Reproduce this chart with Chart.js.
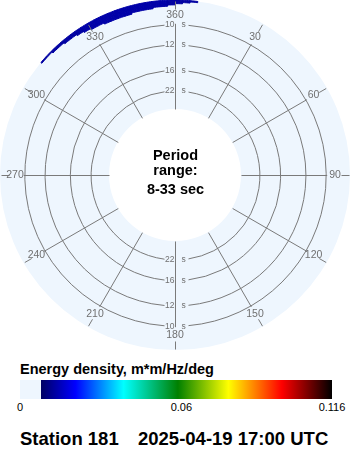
<!DOCTYPE html>
<html>
<head>
<meta charset="utf-8">
<script src="https://cdn.jsdelivr.net/npm/chart.js@4"></script>
<style>
html,body{margin:0;padding:0;background:#fff;}
#wrap{position:relative;width:350px;height:450px;overflow:hidden;font-family:"Liberation Sans",Arial,sans-serif;color:#000;}
#c{position:absolute;left:0;top:0;}
#cbTitle{position:absolute;left:20px;top:362px;font-weight:bold;font-size:14.5px;line-height:1;white-space:nowrap;}
#cb{position:absolute;left:20px;top:380px;width:312px;height:19px;}
.cbl{position:absolute;top:402px;font-size:11px;line-height:1;white-space:nowrap;transform:translateX(-50%);}
.tt{position:absolute;top:430px;font-weight:bold;font-size:18.5px;line-height:1;white-space:nowrap;}
</style>
</head>
<body>
<div id="wrap">
<canvas id="c" width="350" height="350"></canvas>
<div id="cbTitle">Energy density, m*m/Hz/deg</div>
<div id="cb"></div>
<div class="tt" style="left:20px">Station 181</div>
<div class="tt" style="left:138px">2025-04-19 17:00 UTC</div>
</div>
<script>
// ---- data ----
const periodRange = '8-33 sec';
const periodTicks = [10, 12, 16, 22];                 // ring labels (s)
const dirTicks = [0, 30, 60, 90, 120, 150, 180, 210, 240, 270, 300, 330];
const dirTickLabels = ['360', '30', '60', '90', '120', '150', '180', '210', '240', '270', '300', '330'];
const dirStep = 2.5;                                   // degrees per direction bin
const dirStart = 310;                                  // first direction of listed energies
// frequency bin edges (Hz), outer -> inner
const freqEdges = [0.120, 0.119, 0.118, 0.117, 0.116, 0.115, 0.114, 0.113, 0.100, 1/12, 1/16, 1/22, 1/33];
// energy density for direction bins 310,312.5,...,357.5,0,2.5,5 (one array per frequency bin, outer first)
const e0 = [0.013,0.013,0.013,0.013,0.013,0.013,0.013,0.0135,0.0135,0.0135,0.0135,0.0135,0.0135,0.0135,0.0135,0.0135,0.0135,0.0135,0.0135,0.013,0.013,0.013,0.013];
const e1 = [0,0,0.013,0.013,0.013,0.013,0.013,0.0135,0.0135,0.0135,0.0135,0.0135,0.0135,0.0135,0.0135,0.0135,0.0135,0.0135,0.0135,0.013,0.013,0.013,0];
const e2 = [0,0,0,0,0.013,0.013,0.013,0.0135,0.0135,0.0135,0.0135,0.0135,0.0135,0.0135,0.0135,0.0135,0.0135,0.0135,0.0135,0.013,0.013,0,0];
const e3 = [0,0,0,0,0,0,0.013,0.0135,0.0135,0.0135,0.0135,0.0135,0.0135,0.0135,0.0135,0.0135,0.0135,0.0135,0.0135,0.013,0,0,0];
const e4 = [0,0,0,0,0,0,0,0.0135,0.0135,0.0135,0.0135,0.0135,0.0135,0.0135,0.0135,0.0135,0.0135,0.0135,0.0135,0,0,0,0];
const e5 = [0,0,0,0,0,0,0,0,0.0135,0.0135,0.0135,0.0135,0.0135,0.0135,0.0135,0.0135,0.0135,0,0,0,0,0,0];
const e6 = [0,0,0,0,0,0,0,0,0,0,0.0135,0.0135,0.0135,0.0135,0,0,0,0,0,0,0,0,0];
const energyRows = [e0, e1, e2, e3, e4, e5, e6, [], [], [], [], []];
// colour scale
const cbMax = 0.116;
const cbStops = [0.0079, 0.0206, 0.0385, 0.0587, 0.0775, 0.0973, 0.116];
const cbColors = ['#000064', '#0000ff', '#00ffff', '#008000', '#ffff00', '#ff0000', '#000000'];
const cbTicks = [0, 0.06, 0.116];
const cbTickLabels = ['0', '0.06', '0.116'];
const zeroColor = '#eef6fe';

// ---- helpers ----
function hex(c){return [parseInt(c.slice(1,3),16),parseInt(c.slice(3,5),16),parseInt(c.slice(5,7),16)];}
function colorFor(v){
  if(!(v >= cbStops[0])) return null;
  for(let i=1;i<cbStops.length;i++){
    if(v <= cbStops[i]){
      const t=(v-cbStops[i-1])/(cbStops[i]-cbStops[i-1]);
      const a=hex(cbColors[i-1]), b=hex(cbColors[i]);
      return 'rgb('+a.map((x,k)=>Math.round(x+(b[k]-x)*t)).join(',')+')';
    }
  }
  return cbColors[cbColors.length-1];
}
const nDir = Math.round(360 / dirStep);
const dirBins = Array.from({length:nDir}, (_, i) => i * dirStep);
function energyAt(row, dirIdx){
  const d = dirBins[dirIdx];
  const k = Math.round(((d - dirStart + 360) % 360) / dirStep);
  const v = energyRows[row][k];
  return v === undefined ? 0 : v;
}

// colour bar
(function(){
  const W = 312;
  const parts = [zeroColor+' 0px', zeroColor+' '+(cbStops[0]/cbMax*W).toFixed(1)+'px'];
  cbStops.forEach((s,i)=>parts.push(cbColors[i]+' '+(s/cbMax*W).toFixed(1)+'px'));
  document.getElementById('cb').style.background='linear-gradient(to right,'+parts.join(',')+')';
  const wrap=document.getElementById('wrap');
  cbTicks.forEach((t,i)=>{
    const d=document.createElement('div'); d.className='cbl';
    d.style.left=(20+t/cbMax*W)+'px'; d.textContent=cbTickLabels[i]; wrap.appendChild(d);
  });
})();

const datasets = energyRows.map((row, i) => ({
  data: dirBins.map(() => dirStep),
  weight: (freqEdges[i] - freqEdges[i+1]) * 1000,
  backgroundColor: ctx => colorFor(energyAt(i, ctx.dataIndex)) || 'rgba(0,0,0,0)',
  borderColor: ctx => colorFor(energyAt(i, ctx.dataIndex)) || 'rgba(0,0,0,0)',
  borderWidth: ctx => colorFor(energyAt(i, ctx.dataIndex)) ? 1 : 0
}));

const polarGrid = {
  id: 'polarGrid',
  beforeDatasetsDraw(chart){
    const n = chart.data.datasets.length;
    const o = chart.getDatasetMeta(0).data[0];
    const inR = chart.getDatasetMeta(n-1).data[0].innerRadius;
    const ctx = chart.ctx;
    ctx.save();
    ctx.beginPath();
    ctx.arc(o.x, o.y, o.outerRadius, 0, 2*Math.PI);
    ctx.arc(o.x, o.y, inR, 0, 2*Math.PI, true);
    ctx.fillStyle = zeroColor;
    ctx.fill('evenodd');
    ctx.restore();
  },
  afterDatasetsDraw(chart){
    const n = chart.data.datasets.length;
    const o = chart.getDatasetMeta(0).data[0];
    const cx = o.x, cy = o.y, R = o.outerRadius;
    const r0 = chart.getDatasetMeta(n-1).data[0].innerRadius;
    const ringR = periodTicks.map(p => {
      const j = freqEdges.findIndex(f => Math.abs(f - 1/p) < 1e-9);
      return chart.getDatasetMeta(j-1).data[0].innerRadius;
    });
    const r10 = Math.max(...ringR);
    const ctx = chart.ctx;
    ctx.save();
    ctx.translate(0.5, 0.5);
    ctx.strokeStyle = '#7a7a7a';
    ctx.lineWidth = 1;
    ringR.forEach(r => {
      const gl = Math.asin(11/r), gr = Math.asin(13/r);
      ctx.beginPath();
      ctx.arc(cx, cy, r, -Math.PI/2 + gr, Math.PI/2 - gr);
      ctx.stroke();
      ctx.beginPath();
      ctx.arc(cx, cy, r, Math.PI/2 + gl, 3*Math.PI/2 - gl);
      ctx.stroke();
    });
    dirTicks.forEach(d => {
      const a = (d - 90) * Math.PI / 180, c = Math.cos(a), s = Math.sin(a);
      ctx.beginPath();
      ctx.moveTo(cx + r0*c, cy + r0*s);
      ctx.lineTo(cx + (r10+1)*c, cy + (r10+1)*s);
      ctx.moveTo(cx + (R-9)*c, cy + (R-9)*s);
      ctx.lineTo(cx + (R-1)*c, cy + (R-1)*s);
      ctx.stroke();
    });
    ctx.restore();
    ctx.save();
    ctx.fillStyle = '#707070';
    ctx.font = '10.5px "Liberation Sans", Arial, sans-serif';
    ctx.textAlign = 'center';
    ctx.textBaseline = 'middle';
    dirTicks.forEach((d, i) => {
      const a = (d - 90) * Math.PI / 180;
      ctx.fillText(dirTickLabels[i], cx + (R-15)*Math.cos(a), cy + (R-15)*Math.sin(a) + 0.5);
    });
    ctx.font = '8.5px "Liberation Sans", Arial, sans-serif';
    ringR.forEach((r, i) => {
      [-1, 1].forEach(sg => {
        const y = cy + sg*r + 0.5;
        ctx.textAlign = 'right';
        ctx.fillText(String(periodTicks[i]), cx - 0.5, y);
        ctx.textAlign = 'left';
        ctx.fillText('s', cx + 6.5, y);
      });
    });
    ctx.fillStyle = '#000';
    ctx.textAlign = 'center';
    ctx.textBaseline = 'alphabetic';
    ctx.font = 'bold 14.5px "Liberation Sans", Arial, sans-serif';
    ctx.fillText('Period', cx + 0.5, cy - 15);
    ctx.fillText('range:', cx + 0.5, cy);
    ctx.fillText(periodRange, cx + 0.5, cy + 19);
    ctx.restore();
  }
};

new Chart(document.getElementById('c'), {
  type: 'doughnut',
  data: { labels: dirBins.map(String), datasets },
  options: {
    responsive: false,
    animation: false,
    events: [],
    radius: 175,
    cutout: (66/175*100) + '%',
    rotation: 0,
    layout: { padding: 0 },
    plugins: { legend: { display: false }, tooltip: { enabled: false } }
  },
  plugins: [polarGrid]
});
</script>
</body>
</html>
